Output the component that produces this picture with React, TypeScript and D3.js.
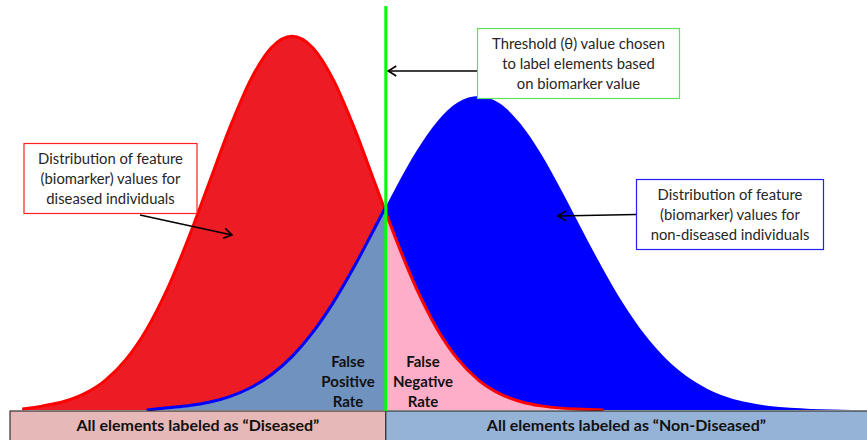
import { useRef, useEffect } from "react";
import * as d3 from "d3";

const width = 867;
const height = 440;

// biomarker value grid (diseased distribution in standard units)
const biomarker = [
  -3.5, -3.25, -3, -2.75, -2.5, -2.25, -2, -1.75, -1.5, -1.25, -1, -0.75, -0.5, -0.25, 0,
  0.25, 0.5, 0.75, 1, 1.25, 1.5, 1.75, 2, 2.25, 2.5, 2.75, 3, 3.25, 3.5, 3.75, 4, 4.25,
  4.5, 4.75, 5, 5.25, 5.5, 5.75, 6, 6.25, 6.5, 6.75, 7,
];

const diseased: (number | null)[] = [
  null, 0.001, 0.0044, 0.0091, 0.0175, 0.0317, 0.054, 0.0863, 0.1295, 0.1827, 0.242,
  0.3011, 0.3521, 0.3867, 0.3989, 0.3867, 0.3521, 0.3011, 0.242, 0.1827, 0.1295, 0.0863,
  0.054, 0.0317, 0.0175, 0.0091, 0.0044, 0.002, 0.0009, 0, null, null, null, null, null,
  null, null, null, null, null, null, null, null,
];

const nonDiseased: (number | null)[] = [
  null, null, null, null, null, null, null, 0, 0.0024, 0.0046, 0.0082, 0.0143, 0.0237,
  0.0376, 0.057, 0.0828, 0.1151, 0.1531, 0.1948, 0.2372, 0.2763, 0.308, 0.3285, 0.3352,
  0.3273, 0.3058, 0.2734, 0.2338, 0.1914, 0.1499, 0.1123, 0.0805, 0.0552, 0.0362, 0.0228,
  0.0137, 0.0079, 0.0043, 0.0023, 0.0012, 0.0005, 0, null,
];

const threshold = 1.13;

const thresholdNote = ["Threshold (θ) value chosen", "to label elements based", "on biomarker value"];
const diseasedNote = ["Distribution of feature", "(biomarker) values for", "diseased individuals"];
const nonDiseasedNote = ["Distribution of feature", "(biomarker) values for", "non-diseased individuals"];
const fprLabel = ["False", "Positive", "Rate"];
const fnrLabel = ["False", "Negative", "Rate"];
const bandLabels = ["All elements labeled as \u201cDiseased\u201d", "All elements labeled as \u201cNon-Diseased\u201d"];

const font = "Lato, 'Open Sans', sans-serif";

export default function App() {
  const ref = useRef<SVGSVGElement | null>(null);

  useEffect(() => {
    const svg = d3.select(ref.current).attr("width", width).attr("height", height);
    svg.selectAll("*").remove();

    const x = d3.scaleLinear().domain([-3.5, 7]).range([1.5, 873]);
    const y = d3.scaleLinear().domain([0, 0.4]).range([410, 35.2]);
    const tx = x(threshold);
    const baseY = 411;

    const pts = (vals: (number | null)[]) =>
      biomarker.map((b, i) => ({ b, v: vals[i] }));
    const red = pts(diseased);
    const blue = pts(nonDiseased);

    const area = d3
      .area<{ b: number; v: number | null }>()
      .defined((d) => d.v != null)
      .x((d) => x(d.b))
      .y0(y(0))
      .y1((d) => y(d.v!))
      .curve(d3.curveMonotoneX);
    const line = d3
      .line<{ b: number; v: number | null }>()
      .defined((d) => d.v != null)
      .x((d) => x(d.b))
      .y((d) => y(d.v!))
      .curve(d3.curveMonotoneX);

    const defs = svg.append("defs");
    defs
      .append("clipPath")
      .attr("id", "leftSide")
      .append("rect")
      .attr("x", 0)
      .attr("y", 0)
      .attr("width", tx)
      .attr("height", height);
    defs
      .append("clipPath")
      .attr("id", "rightSide")
      .append("rect")
      .attr("x", tx)
      .attr("y", 0)
      .attr("width", width - tx)
      .attr("height", height);
    defs
      .append("marker")
      .attr("id", "arrow")
      .attr("viewBox", "-10 -6 12 12")
      .attr("markerWidth", 12)
      .attr("markerHeight", 12)
      .attr("markerUnits", "userSpaceOnUse")
      .attr("orient", "auto")
      .append("path")
      .attr("d", "M-8,-5 L0,0 L-8,5")
      .attr("fill", "none")
      .attr("stroke", "#000")
      .attr("stroke-width", 1.6);

    // filled distributions
    svg.append("path").datum(red).attr("d", area).attr("fill", "#ED1C24");
    svg.append("path").datum(blue).attr("d", area).attr("fill", "#0000FF");
    svg
      .append("path")
      .datum(blue)
      .attr("d", area)
      .attr("fill", "#7092BE")
      .attr("clip-path", "url(#leftSide)");
    svg
      .append("path")
      .datum(red)
      .attr("d", area)
      .attr("fill", "#FFAEC9")
      .attr("clip-path", "url(#rightSide)");

    svg
      .append("path")
      .datum(red)
      .attr("d", line)
      .attr("fill", "none")
      .attr("stroke", "#FF0000")
      .attr("stroke-width", 3);
    svg
      .append("path")
      .datum(blue)
      .attr("d", line)
      .attr("fill", "none")
      .attr("stroke", "#0000FF")
      .attr("stroke-width", 3)
      .attr("clip-path", "url(#leftSide)");

    // bottom bands
    const bands = [
      { x0: 10, x1: tx, fill: "#E6B9B8", label: bandLabels[0] },
      { x0: tx, x1: width + 2, fill: "#95B3D7", label: bandLabels[1] },
    ];
    bands.forEach((b) => {
      svg
        .append("rect")
        .attr("x", b.x0)
        .attr("y", baseY)
        .attr("width", b.x1 - b.x0)
        .attr("height", height - baseY + 2)
        .attr("fill", b.fill)
        .attr("stroke", "#333")
        .attr("stroke-width", 1.2);
      svg
        .append("text")
        .attr("x", (b.x0 + Math.min(b.x1, width)) / 2)
        .attr("y", 430.5)
        .attr("text-anchor", "middle")
        .attr("font-family", font)
        .attr("font-weight", "bold")
        .attr("font-size", 16)
        .attr("fill", "#111")
        .text(b.label);
    });

    // threshold line
    svg
      .append("line")
      .attr("x1", tx)
      .attr("x2", tx)
      .attr("y1", 6)
      .attr("y2", baseY)
      .attr("stroke", "#00FF00")
      .attr("stroke-width", 3);

    // FPR / FNR labels
    const stack = (lines: string[], cx: number) =>
      lines.forEach((t, i) =>
        svg
          .append("text")
          .attr("x", cx)
          .attr("y", 367 + i * 20)
          .attr("text-anchor", "middle")
          .attr("font-family", font)
          .attr("font-weight", "bold")
          .attr("font-size", 15)
          .attr("fill", "#111")
          .text(t)
      );
    stack(fprLabel, 348);
    stack(fnrLabel, 423);

    // annotation boxes
    const note = (
      lines: string[],
      bx: number,
      by: number,
      bw: number,
      bh: number,
      color: string
    ) => {
      svg
        .append("rect")
        .attr("x", bx)
        .attr("y", by)
        .attr("width", bw)
        .attr("height", bh)
        .attr("fill", "#fff")
        .attr("stroke", color)
        .attr("stroke-width", 1.2);
      lines.forEach((t, i) =>
        svg
          .append("text")
          .attr("x", bx + bw / 2)
          .attr("y", by + 20.5 + i * 20)
          .attr("text-anchor", "middle")
          .attr("font-family", font)
          .attr("font-size", 14.8)
          .attr("fill", "#262626")
          .text(t)
      );
    };
    note(thresholdNote, 477.5, 28.5, 202, 70, "#5FE05F");
    note(diseasedNote, 24, 143.5, 173, 70, "#FF2020");
    note(nonDiseasedNote, 636.5, 179.5, 187, 70, "#2020FF");

    const arrow = (x1: number, y1: number, x2: number, y2: number) =>
      svg
        .append("line")
        .attr("x1", x1)
        .attr("y1", y1)
        .attr("x2", x2)
        .attr("y2", y2)
        .attr("stroke", "#000")
        .attr("stroke-width", 1.6)
        .attr("marker-end", "url(#arrow)");
    arrow(477, 71, tx + 2.5, 71);
    arrow(140, 215, 232, 235);
    arrow(636, 214.5, 558, 216);
  }, []);

  return <svg ref={ref} style={{ position: "absolute", left: 0, top: 0 }} />;
}
